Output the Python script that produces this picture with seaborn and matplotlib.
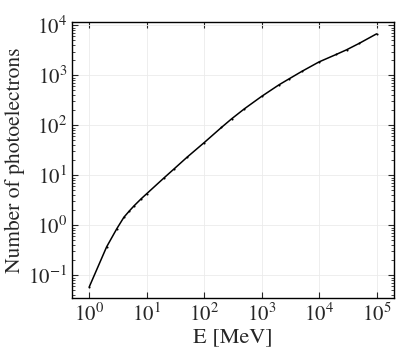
import matplotlib
matplotlib.use("Agg")
import matplotlib.pyplot as plt
import seaborn as sns
import pandas as pd
from matplotlib.ticker import LogLocator, NullLocator

energy_mev = [1, 2, 3, 4, 5, 6, 8, 10, 20, 30, 50, 100, 200, 300, 500,
              1000, 2000, 3000, 5000, 10000, 20000, 30000, 50000, 100000]
photoelectrons = [0.059, 0.37, 0.85, 1.45, 1.95, 2.45, 3.4, 4.3, 8.9, 13.5, 22.9,
                  45.2, 91, 135, 214, 380, 646, 851, 1200, 1860, 2630, 3240,
                  4370, 6760]
x_label = "E [MeV]"
y_label = "Number of photoelectrons"

sns.set_style("ticks")
plt.rcParams["font.family"] = ["STIXGeneral", "Liberation Serif", "DejaVu Serif"]
plt.rcParams["mathtext.fontset"] = "stix"

df = pd.DataFrame({"E": energy_mev, "N": photoelectrons})

fig = plt.figure(figsize=(4.15, 3.63), dpi=100)
ax = fig.add_axes([0.1735, 0.1777, 0.7755, 0.7613])
sns.lineplot(data=df, x="E", y="N", ax=ax, color="black", linewidth=1.1,
             marker=".", markersize=3, markeredgewidth=0)
ax.set_xscale("log")
ax.set_yscale("log")
ax.set_xlim(0.5, 2.0e5)
ax.set_ylim(0.0344, 11600)
ax.xaxis.set_major_locator(LogLocator(base=10, numticks=10))
ax.xaxis.set_minor_locator(NullLocator())
ax.yaxis.set_minor_locator(LogLocator(base=10, subs=range(2, 10), numticks=20))
ax.grid(True, which="major", color="#ebebeb", linewidth=0.6)
ax.set_xlabel(x_label, fontsize=16, labelpad=1)
ax.set_ylabel(y_label, fontsize=15.5, labelpad=2)
ax.tick_params(which="both", direction="in", top=True, right=True, labelsize=15)
ax.tick_params(which="major", length=4, width=0.8)
ax.tick_params(which="minor", length=2, width=0.6)
for s in ax.spines.values():
    s.set_linewidth(1.0)
    s.set_color("black")
fig.savefig("out.png", dpi=100)
